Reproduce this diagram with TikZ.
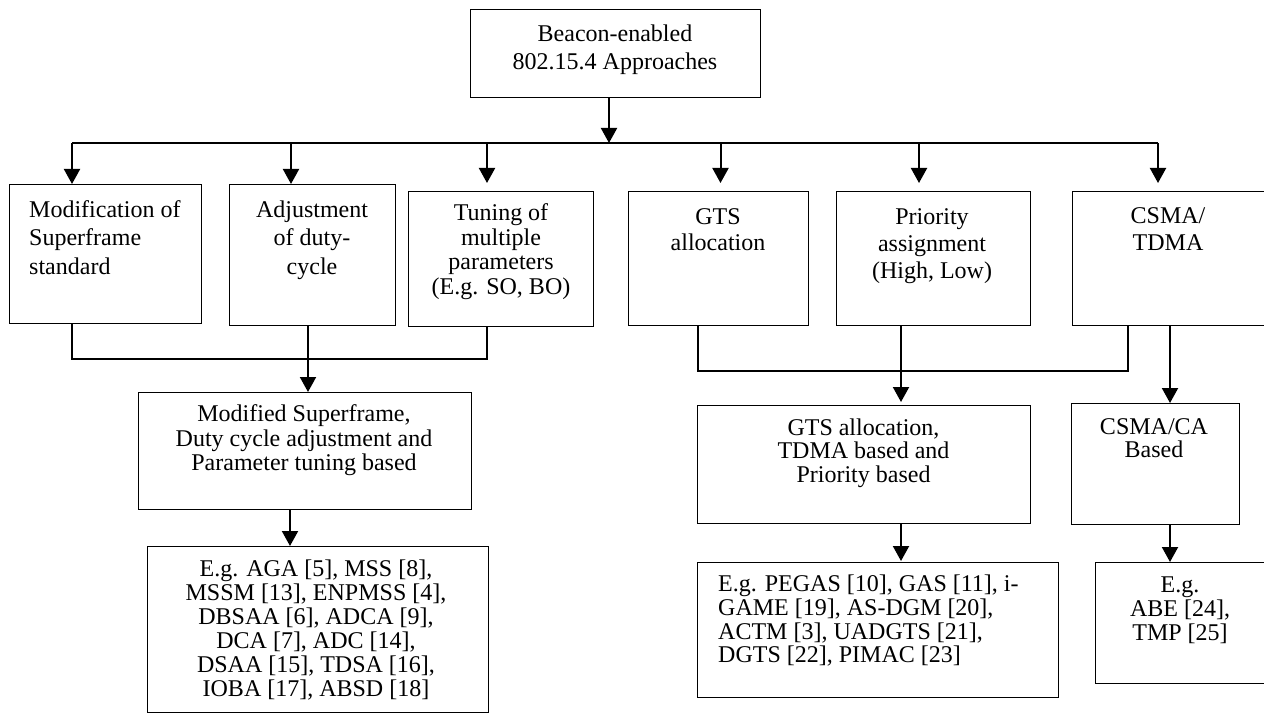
\documentclass[tikz,border=0pt]{standalone}
\usepackage{fontspec}
\setmainfont{Liberation Serif}
\usetikzlibrary{arrows.meta}
\begin{document}
\begin{tikzpicture}[x=1pt,y=-1pt,
  box/.style={draw, line width=1.2pt, inner sep=0pt, anchor=north west},
  lbl/.style={inner sep=0pt, align=center, anchor=base, font=\fontsize{24}{#1}\selectfont},
  lbll/.style={inner sep=0pt, align=left, anchor=base west, font=\fontsize{24}{#1}\selectfont},
  conn/.style={line width=1.2pt},
  arr/.style={line width=2pt, -{Triangle[width=16pt,length=15pt]}}]
\useasboundingbox (0,0) rectangle (1264,714);
\clip (0,0) rectangle (1264,714);
% boxes
\node[box, minimum width=290pt, minimum height=88pt] (top) at (470,9) {};
\node[box, minimum width=192pt, minimum height=139pt] (b1) at (9,184) {};
\node[box, minimum width=166pt, minimum height=141pt] (b2) at (229,184) {};
\node[box, minimum width=185pt, minimum height=135pt] (b3) at (408,191) {};
\node[box, minimum width=180pt, minimum height=134pt] (b4) at (628,191) {};
\node[box, minimum width=194pt, minimum height=134pt] (b5) at (836,191) {};
\node[box, minimum width=200pt, minimum height=134pt] (b6) at (1072,191) {};
\node[box, minimum width=333pt, minimum height=117pt] (m) at (138,392) {};
\node[box, minimum width=341pt, minimum height=166pt] (e1) at (147,546) {};
\node[box, minimum width=333pt, minimum height=118pt] (g) at (697,405) {};
\node[box, minimum width=361pt, minimum height=135pt] (p) at (697,562) {};
\node[box, minimum width=168pt, minimum height=121pt] (c) at (1071,403) {};
\node[box, minimum width=180pt, minimum height=121pt] (a) at (1095,562) {};
% labels (anchor = baseline of last line)
\node[lbl=28] (ttop) at (615,70) {Beacon-enabled\\802.15.4 Approaches};
\node[lbll=28.5] (t1) at (29,274) {Modification of\\Superframe\\standard};
\node[lbl=28.5] (t2) at (312,274) {Adjustment\\of duty-\\cycle};
\node[lbl=24.5] (t3) at (501,294.2) {Tuning of\\multiple\\parameters\\(E.g. SO, BO)};
\node[lbl=26.7] (t4) at (718,250.7) {GTS\\allocation};
\node[lbl=27] (t5) at (932,278) {Priority\\assignment\\(High, Low)};
\node[lbl=27] (t6) at (1168,251) {CSMA/\\TDMA};
\node[lbl=24.5] (tm) at (304,470.7) {Modified Superframe,\\Duty cycle adjustment and\\Parameter tuning based};
\node[lbl=24] (te1) at (316,696) {E.g. AGA [5], MSS [8],\\MSSM [13], ENPMSS [4],\\DBSAA [6], ADCA [9],\\DCA [7], ADC [14],\\DSAA [15], TDSA [16],\\IOBA [17], ABSD [18]};
\node[lbl=23.8] (tg) at (863.5,482.6) {GTS allocation,\\TDMA based and\\Priority based};
\node[lbl=23] (tc) at (1154,457.3) {CSMA/CA\\Based};
\node[lbll=23.7] (tp) at (718,662.8) {E.g. PEGAS [10], GAS [11], i-\\GAME [19], AS-DGM [20],\\ACTM [3], UADGTS [21],\\DGTS [22], PIMAC [23]};
\node[lbl=23.7] (ta) at (1180,640.1) {E.g.\\ABE [24],\\TMP [25]};
% top bus
\coordinate (jt) at (609,143);
\coordinate (jL) at (72,143);
\coordinate (jR) at (1158,143);
\coordinate (j2) at (291,143);
\coordinate (j3) at (487,143);
\coordinate (j4) at (720.5,143);
\coordinate (j5) at (919,143);
\draw[arr] (top.south -| jt) -- (jt);
\draw[conn] (jL) -- (jR);
\draw[arr] (jL) -- (jL |- b1.north);
\draw[arr] (j2) -- (j2 |- b2.north);
\draw[arr, shorten >=8pt] (j3) -- (j3 |- b3.north);
\draw[arr, shorten >=8pt] (j4) -- (j4 |- b4.north);
\draw[arr, shorten >=8pt] (j5) -- (j5 |- b5.north);
\draw[arr, shorten >=8pt] (jR) -- (jR |- b6.north);
% lower left
\coordinate (k1) at (72,359);
\coordinate (k2) at (308,359);
\coordinate (k3) at (487,359);
\draw[conn] (b1.south -| k1) -- (k1) -- (k3) -- (b3.south -| k3);
\draw[conn] (b2.south -| k2) -- (k2);
\draw[arr] (k2) -- (k2 |- m.north);
\coordinate (xm) at (290,509);
\draw[arr] (m.south -| xm) -- (xm |- e1.north);
% right
\coordinate (r1) at (698,371);
\coordinate (r2) at (901,371);
\coordinate (r3) at (1128,371);
\draw[conn] (b4.south -| r1) -- (r1) -- (r3) -- (b6.south -| r3);
\draw[conn] (b5.south -| r2) -- (r2);
\draw[arr, shorten >=3pt] (r2) -- (r2 |- g.north);
\coordinate (xc) at (1170,325);
\draw[arr] (b6.south -| xc) -- (xc |- c.north);
\draw[arr, shorten >=1pt] (g.south -| r2) -- (r2 |- p.north);
\draw[arr] (c.south -| xc) -- (xc |- a.north);
\end{tikzpicture}
\end{document}
